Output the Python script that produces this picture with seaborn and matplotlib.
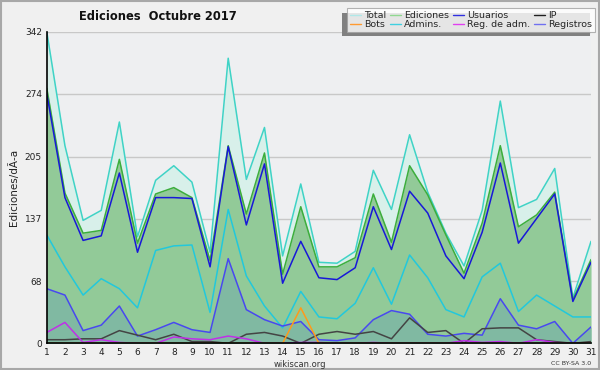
import numpy as np
import pandas as pd
import matplotlib
matplotlib.use("Agg")
import matplotlib.pyplot as plt
from matplotlib.lines import Line2D
from matplotlib.patches import FancyBboxPatch
import seaborn as sns

days = list(range(1, 32))
total = [342, 217, 135, 146, 243, 117, 179, 195, 177, 100, 313, 180, 237, 96, 175,
         89, 88, 101, 190, 147, 229, 166, 121, 85, 146, 266, 149, 158, 192, 50, 112]
ediciones = [280, 165, 121, 124, 202, 110, 164, 171, 160, 91, 217, 142, 209, 76, 150,
             84, 84, 94, 164, 111, 195, 163, 119, 77, 132, 217, 128, 141, 166, 48, 92]
usuarios = [274, 160, 113, 118, 187, 100, 160, 160, 159, 84, 216, 130, 197, 66, 112,
            72, 70, 83, 150, 103, 167, 143, 96, 71, 122, 198, 110, 137, 164, 46, 89]
ip = [4, 4, 5, 5, 14, 9, 4, 10, 2, 2, 0, 10, 12, 8, 0,
      10, 13, 10, 13, 5, 28, 12, 14, 0, 16, 17, 17, 4, 2, 0, 2]
bots = [0, 0, 0, 0, 0, 0, 0, 0, 0, 0, 0, 0, 0, 0, 39,
        0, 0, 0, 0, 0, 0, 0, 0, 0, 0, 0, 0, 0, 0, 0, 0]
admins = [119, 84, 53, 71, 60, 39, 102, 107, 108, 34, 147, 74, 41, 17, 57,
          29, 27, 44, 83, 43, 97, 72, 37, 29, 73, 88, 35, 53, 41, 29, 29]
reg_adm = [12, 23, 1, 4, 1, 0, 0, 7, 5, 4, 8, 5, 0, 0, 1,
           1, 0, 0, 1, 0, 0, 0, 0, 3, 1, 2, 0, 4, 1, 0, 0]
registros = [60, 53, 14, 20, 41, 8, 15, 23, 15, 12, 93, 37, 26, 19, 24,
             4, 3, 6, 26, 36, 32, 10, 8, 11, 9, 49, 20, 16, 24, 0, 18]

y_ticks = [0, 68, 137, 205, 274, 342]
title = "Ediciones  Octubre 2017"
ylabel = "Ediciones/dÃ\u00ada"

series_names = ["Total", "Ediciones", "Usuarios", "IP", "Bots", "Admins.", "Reg. de adm.", "Registros"]
series_vals = [total, ediciones, usuarios, ip, bots, admins, reg_adm, registros]

line_colors = {
    "Total": "#3fd3c6",
    "Ediciones": "#3cae3c",
    "Usuarios": "#1818d8",
    "IP": "#444444",
    "Bots": "#ff9a1a",
    "Admins.": "#22c8dc",
    "Reg. de adm.": "#c030e8",
    "Registros": "#4848f0",
}
legend_colors = {
    "Total": "#b0e8e8",
    "Ediciones": "#90d890",
    "Usuarios": "#3030e0",
    "IP": "#202020",
    "Bots": "#ff9a30",
    "Admins.": "#40d0e0",
    "Reg. de adm.": "#e040f0",
    "Registros": "#7070f0",
}

df = pd.DataFrame({"day": days})
for n, v in zip(series_names, series_vals):
    df[n] = v
long = df.melt(id_vars="day", var_name="serie", value_name="value")

sns.set_style("white")
plt.rcParams["font.family"] = ["DejaVu Sans"]

fig = plt.figure(figsize=(6.0, 3.7), dpi=100, facecolor="#f0f0f0")
ax = fig.add_axes([0.078, 0.072, 0.907, 0.842])
ax.set_facecolor("#eeeff1")

# fills
ax.fill_between(df["day"], df["Total"], color="#d8f0ea", zorder=1, lw=0)
ax.fill_between(df["day"], df["Ediciones"], color="#92ca98", zorder=2, lw=0)
ax.fill_between(df["day"], df["Registros"], color="#80b9a2", zorder=3, lw=0)

draw_order = ["Total", "Admins.", "Ediciones", "Registros", "IP", "Reg. de adm.", "Bots", "Usuarios"]
for i, n in enumerate(draw_order):
    sub = long[long["serie"] == n]
    sns.lineplot(data=sub, x="day", y="value", color=line_colors[n], lw=1.1,
                 ax=ax, legend=False, zorder=5 + i, estimator=None)

ax.set_xlim(1, 31)
ax.set_ylim(0, 342)
ax.set_yticks(y_ticks)
ax.set_yticks(np.arange(0, 342, 342 / 20), minor=True)
ax.set_xticks(days)
ax.set_xticklabels([str(d) for d in days])
ax.grid(axis="y", which="major", color="#c8c8c8", lw=1, zorder=0)
ax.set_axisbelow(True)
for s in ["top", "right"]:
    ax.spines[s].set_visible(False)
for s in ["left", "bottom"]:
    ax.spines[s].set_color("black")
    ax.spines[s].set_linewidth(1.2)
    ax.spines[s].set_zorder(20)
ax.tick_params(axis="both", which="major", direction="out", length=3, width=1,
               labelsize=6.5, pad=0.5, color="black", labelcolor="#222222")
ax.tick_params(axis="y", which="minor", direction="out", length=3, width=1, color="black")
ax.set_xlabel("")
ax.set_ylabel(ylabel, fontsize=7.5, labelpad=4, color="#222222")

fig.text(0.263, 0.955, title, fontsize=8.3, fontweight="bold", ha="center", va="center", color="#111111")
fig.text(0.5, 0.016, "wikiscan.org", fontsize=6, ha="center", va="center", color="#333333")
fig.text(0.985, 0.018, "CC BY-SA 3.0", fontsize=4.5, ha="right", va="center", color="#333333")

# legend (column-major fill: rows are Total..IP / Bots..Registros)
legend_order = ["Total", "Bots", "Ediciones", "Admins.", "Usuarios", "Reg. de adm.", "IP", "Registros"]
handles = [Line2D([0], [0], color=legend_colors[n], lw=1) for n in legend_order]
leg = fig.legend(handles, legend_order, loc="upper right", bbox_to_anchor=(0.992, 0.978),
                 ncol=4, fontsize=6.8, frameon=True, fancybox=False, handlelength=1.2,
                 handletextpad=0.35, columnspacing=0.35, labelspacing=0.0,
                 borderpad=0.3, borderaxespad=0.0)
leg.get_frame().set_facecolor("white")
leg.get_frame().set_edgecolor("#a0a0a0")
leg.get_frame().set_linewidth(0.8)
leg.set_zorder(30)
fig.canvas.draw()
bb = leg.get_window_extent().transformed(fig.transFigure.inverted())
shadow = FancyBboxPatch((bb.x0 - 0.008, bb.y0 - 0.012), bb.width, bb.height,
                        boxstyle="square,pad=0", transform=fig.transFigure,
                        facecolor="#808080", edgecolor="none", zorder=25)
fig.patches.append(shadow)

# outer border
border = FancyBboxPatch((0.001, 0.002), 0.997, 0.996, boxstyle="square,pad=0",
                        transform=fig.transFigure, facecolor="none",
                        edgecolor="#a8a8a8", lw=1.5)
fig.patches.append(border)

fig.savefig("out.png", dpi=100, facecolor=fig.get_facecolor())
